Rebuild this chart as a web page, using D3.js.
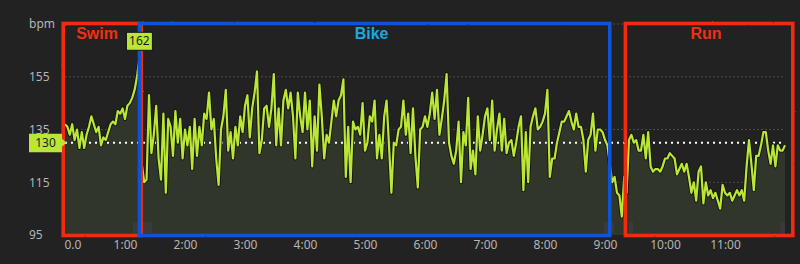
<!DOCTYPE html>
<head>
<meta charset="utf-8">
<script src="https://d3js.org/d3.v7.min.js"></script>
<style>
  body { margin: 0; background: #222222; }
  svg { display: block; }
  .tick text, .lbl { font-family: "Noto Sans", sans-serif; font-size: 12px; fill: #b5b5b5; }
  .leg { font-family: "Liberation Sans", Arial, sans-serif; font-size: 16px; font-weight: bold; }
</style>
</head>
<body>
<svg id="chart"></svg>
<script>

// heart rate, one sample every 0.04 h of the time axis
var hrStep = 0.04;
var heartRate = [
  137,136,133,137,131,135,128,134,128,133,136,140,137,134,136,129,132,131,134,137,138,137,142,141,143,139,144,145,147,150,155,162,
  122,115,116,148,126,133,144,124,116,141,111,139,136,125,142,130,139,124,135,129,136,120,139,125,136,129,141,139,149,135,139,124,114,135,140,150,127,134,124,136,129,140,134,
  144,148,132,143,149,157,126,131,143,144,136,143,156,129,143,129,146,150,143,149,140,124,149,140,134,149,135,146,121,140,127,152,140,124,133,130,138,146,140,146,148,154,117,136,115,138,135,136,133,145,127,130,140,138,146,124,133,124,140,146,129,111,130,129,135,136,146,133,141,126,143,125,113,135,136,140,
  136,141,149,139,150,133,139,146,156,130,125,122,127,138,115,134,129,147,120,127,118,140,127,133,140,143,131,146,127,135,141,127,139,126,130,131,125,130,136,140,112,134,115,136,140,143,135,136,138,141,150,117,124,124,130,134,138,138,140,142,138,135,141,136,136,131,119,131,133,141,127,135,135,134,
  131,129,122,115,117,111,110,102,117,111,131,133,130,131,127,127,133,124,134,121,119,120,120,119,121,124,124,126,125,124,118,120,122,119,122,117,111,115,108,119,121,107,115,110,112,109,111,108,105,114,111,110,111,108,110,112,110,112,108,121,131,122,112,125,125,129,134,134,127,122,129,121,129,127,127,129
];
var avgHr = 130;

var yTicks = [95, 115, 135, 155, 175];
var yTickLabels = ["95", "115", "135", "155", "bpm"];
var xTicks = [0, 1, 2, 3, 4, 5, 6, 7, 8, 9, 10, 11];
var xTickLabels = ["0.0", "1:00", "2:00", "3:00", "4:00", "5:00", "6:00", "7:00", "8:00", "9:00", "10:00", "11:00"];

var legNames = ["Swim", "Bike", "Run"];
var legStart = [-0.03, 1.24, 9.34];
var legEnd = [1.27, 9.08, 12.13];
var legStroke = ["#f42a0c", "#0a54d8", "#f42a0c"];
var legText = ["#f2300f", "#1aa7e2", "#f2300f"];

var lapStart = [1.13, 8.98, 9.40, 11.92];
var lapEnd = [1.45, 9.15, 9.47, 12.0];

var width = 800, height = 264;
var lime = "#bae636";

var svg = d3.select("#chart").attr("width", width).attr("height", height);

var x = d3.scaleLinear().domain([0, 12]).range([65, 785]);
var y = d3.scaleLinear().domain([95, 175]).range([235, 24]);

var points = heartRate.map(function (v, i) { return { t: i * hrStep, v: v }; });

// rough marker look for the boxes
var defs = svg.append("defs");
var rough = defs.append("filter").attr("id", "rough")
  .attr("x", "-5%").attr("y", "-5%").attr("width", "110%").attr("height", "110%");
rough.append("feTurbulence").attr("type", "fractalNoise").attr("baseFrequency", 0.9).attr("numOctaves", 2).attr("result", "n");
rough.append("feDisplacementMap").attr("in", "SourceGraphic").attr("in2", "n").attr("scale", 1.6);

// grid
svg.append("g").selectAll("line")
  .data(yTicks.slice(1))
  .enter().append("line")
  .attr("x1", x(0)).attr("x2", x(12))
  .attr("y1", function (d) { return y(d); }).attr("y2", function (d) { return y(d); })
  .style("stroke", "#4a4a4a").style("stroke-dasharray", "2,2");

// area + lap markers
var area = d3.area()
  .x(function (d) { return x(d.t); })
  .y0(y(95))
  .y1(function (d) { return y(d.v); });

svg.append("path").datum(points).attr("d", area).style("fill", "#31362a");

svg.append("g").selectAll("rect")
  .data(lapStart)
  .enter().append("rect")
  .attr("x", function (d) { return x(d); })
  .attr("width", function (d, i) { return x(lapEnd[i]) - x(d); })
  .attr("y", y(95) - 13).attr("height", 11)
  .style("fill", "#3a3a3a");

// average line
svg.append("line")
  .attr("x1", x(0)).attr("x2", x(12))
  .attr("y1", y(avgHr)).attr("y2", y(avgHr))
  .style("stroke", "#ffffff").style("stroke-width", 2).style("stroke-dasharray", "2,4");

var line = d3.line()
  .x(function (d) { return x(d.t); })
  .y(function (d) { return y(d.v); });

svg.append("path").datum(points).attr("d", line)
  .style("fill", "none").style("stroke", "#141414").style("stroke-width", 4).style("stroke-linejoin", "round");
svg.append("path").datum(points).attr("d", line)
  .style("fill", "none").style("stroke", lime).style("stroke-width", 2.2).style("stroke-linejoin", "round");

// axes
var yAxis = svg.append("g").attr("transform", "translate(29,0)")
  .call(d3.axisLeft(y).tickValues(yTicks).tickSize(0)
    .tickFormat(function (d, i) { return yTickLabels[i]; }));
yAxis.select(".domain").remove();
yAxis.selectAll("text").attr("x", 0).attr("text-anchor", "start");

var xAxis = svg.append("g").attr("transform", "translate(0,236)")
  .call(d3.axisBottom(x).tickValues(xTicks).tickSize(0)
    .tickFormat(function (d, i) { return xTickLabels[i]; }));
xAxis.select(".domain").remove();
xAxis.selectAll("text").attr("y", 4)
  .attr("text-anchor", function (d) { return d === 0 ? "start" : "middle"; })
  .attr("dx", function (d) { return d === 0 ? "-1" : "0"; });

// leg boxes
var legs = svg.append("g").selectAll("g")
  .data(legNames)
  .enter().append("g");

legs.append("rect")
  .attr("x", function (d, i) { return x(legStart[i]); })
  .attr("width", function (d, i) { return x(legEnd[i]) - x(legStart[i]); })
  .attr("y", y(175) - 0.5).attr("height", y(95) - y(175) + 1)
  .attr("filter", "url(#rough)")
  .style("fill", "none")
  .style("stroke", function (d, i) { return legStroke[i]; })
  .style("stroke-width", 3.6);

legs.append("text").attr("class", "leg")
  .attr("x", function (d, i) { return i === 0 ? x(legStart[i]) + 13 : x((legStart[i] + legEnd[i]) / 2) - 3; })
  .attr("y", 39)
  .attr("text-anchor", function (d, i) { return i === 0 ? "start" : "middle"; })
  .style("fill", function (d, i) { return legText[i]; })
  .text(function (d) { return d; });

// max label
var peak = points.reduce(function (a, b) { return b.v > a.v ? b : a; });
var pk = svg.append("g").attr("transform", "translate(" + x(peak.t) + "," + (y(peak.v) - 17) + ")");
pk.append("rect").attr("x", -13).attr("y", -9).attr("width", 26).attr("height", 18)
  .style("fill", lime).style("stroke", "#111").style("stroke-width", 1);
pk.append("text").attr("class", "lbl").attr("text-anchor", "middle").attr("dy", "0.35em")
  .style("fill", "#1c1c1c").text(peak.v);

// average label
var ay = y(avgHr), ax = x(0);
svg.append("path")
  .attr("d", "M29," + (ay - 9) + "H" + (ax - 3) + "V" + (ay - 4) + "L" + (ax + 1.5) + "," + ay +
    "L" + (ax - 3) + "," + (ay + 4) + "V" + (ay + 9.5) + "H29Z")
  .style("fill", lime);
svg.append("text").attr("class", "lbl")
  .attr("x", (29 + ax - 3) / 2).attr("y", ay).attr("dy", "0.38em").attr("text-anchor", "middle")
  .style("fill", "#1c1c1c").text(avgHr);

</script>
</body>
